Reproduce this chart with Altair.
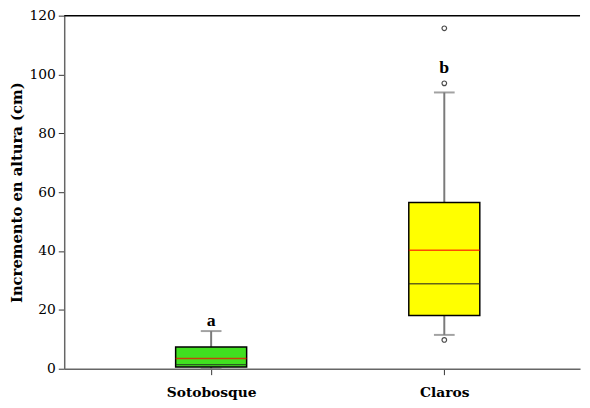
import altair as alt
import pandas as pd

cats = ["Sotobosque", "Claros"]
pos = [1, 2]
q1 = [0.6, 18.1]
q3 = [7.4, 56.5]
median = [1.4, 28.9]
mean = [3.5, 40.3]
whisk_lo = [0.0, 11.5]
whisk_hi = [12.8, 93.9]
colors = ["#40e020", "#ffff00"]
out_pos = [2, 2, 2]
out_vals = [9.8, 97.0, 115.7]
letters = ["a", "b"]
letter_y = [16.3, 102.1]

df = pd.DataFrame({"cat": cats, "pos": pos, "q1": q1, "q3": q3, "median": median,
                   "mean": mean, "lo": whisk_lo, "hi": whisk_hi, "color": colors,
                   "letter": letters, "ly": letter_y})
dout = pd.DataFrame({"pos": out_pos, "v": out_vals})

FONT = "DejaVu Serif"
xs = alt.Scale(domain=[0.391, 2.561], nice=False, zero=False)
ys = alt.Scale(domain=[0, 120], nice=False)

x = alt.X("pos:Q", scale=xs, title=None,
          axis=alt.Axis(values=[1, 2], labelExpr="datum.value == 1 ? 'Sotobosque' : 'Claros'",
                        grid=False, domainColor="#666666", domainWidth=1.5, tickColor="#333333",
                        tickSize=6, labelFont=FONT, labelFontWeight="bold", labelFontSize=14,
                        labelColor="black", labelPadding=11))
y_axis = alt.Axis(values=[0, 20, 40, 60, 80, 100, 120], grid=False, domainColor="#666666",
                  domainWidth=1.5, tickColor="#333333", tickSize=6, labelFont=FONT,
                  labelFontSize=14, labelColor="black", labelPadding=3,
                  title="Incremento en altura (cm)", titleFont=FONT, titleFontWeight="bold",
                  titleFontSize=15, titleColor="black", titlePadding=5)

base = alt.Chart(df)

top_line = alt.Chart(pd.DataFrame({"t": [120]})).mark_rule(color="black", strokeWidth=1.5).encode(
    y=alt.Y("t:Q", scale=ys))

whisk_up = base.mark_rule(color="#7a7a7a", strokeWidth=2).encode(
    x=x, y=alt.Y("q3:Q", scale=ys, axis=y_axis), y2="hi:Q")
whisk_dn = base.mark_rule(color="#7a7a7a", strokeWidth=2).encode(
    x=x, y=alt.Y("lo:Q", scale=ys), y2="q1:Q")
caps_hi = base.mark_tick(color="#7a7a7a", size=21, thickness=2, orient="horizontal").encode(
    x=x, y=alt.Y("hi:Q", scale=ys))
caps_lo = base.mark_tick(color="#7a7a7a", size=21, thickness=2, orient="horizontal").encode(
    x=x, y=alt.Y("lo:Q", scale=ys))
box = base.mark_bar(size=72, stroke="black", strokeWidth=1.5).encode(
    x=x, y=alt.Y("q1:Q", scale=ys), y2="q3:Q",
    fill=alt.Fill("color:N", scale=None))
med = base.mark_tick(color="#222222", size=72, thickness=1.5, orient="horizontal").encode(
    x=x, y=alt.Y("median:Q", scale=ys))
mn = base.mark_tick(color="#ff0000", size=72, thickness=1.5, orient="horizontal").encode(
    x=x, y=alt.Y("mean:Q", scale=ys))
outl = alt.Chart(dout).mark_point(shape="circle", filled=False, color="black", size=22,
                                  strokeWidth=1.2).encode(
    x=alt.X("pos:Q", scale=xs), y=alt.Y("v:Q", scale=ys))
txt = base.mark_text(font="Liberation Serif", fontWeight="bold", fontSize=18, color="black",
                     baseline="middle").encode(
    x=alt.X("pos:Q", scale=xs), y=alt.Y("ly:Q", scale=ys), text="letter:N")

chart = alt.layer(top_line, whisk_up, whisk_dn, caps_hi, caps_lo, box, med, mn, outl, txt).properties(
    width=523, height=358,
    autosize=alt.AutoSizeParams(type="none"),
    padding={"left": 57, "top": 5, "right": 2, "bottom": 34},
).configure_view(stroke=None)

chart.save("out.html", embed_options={"renderer": "svg", "actions": False})
